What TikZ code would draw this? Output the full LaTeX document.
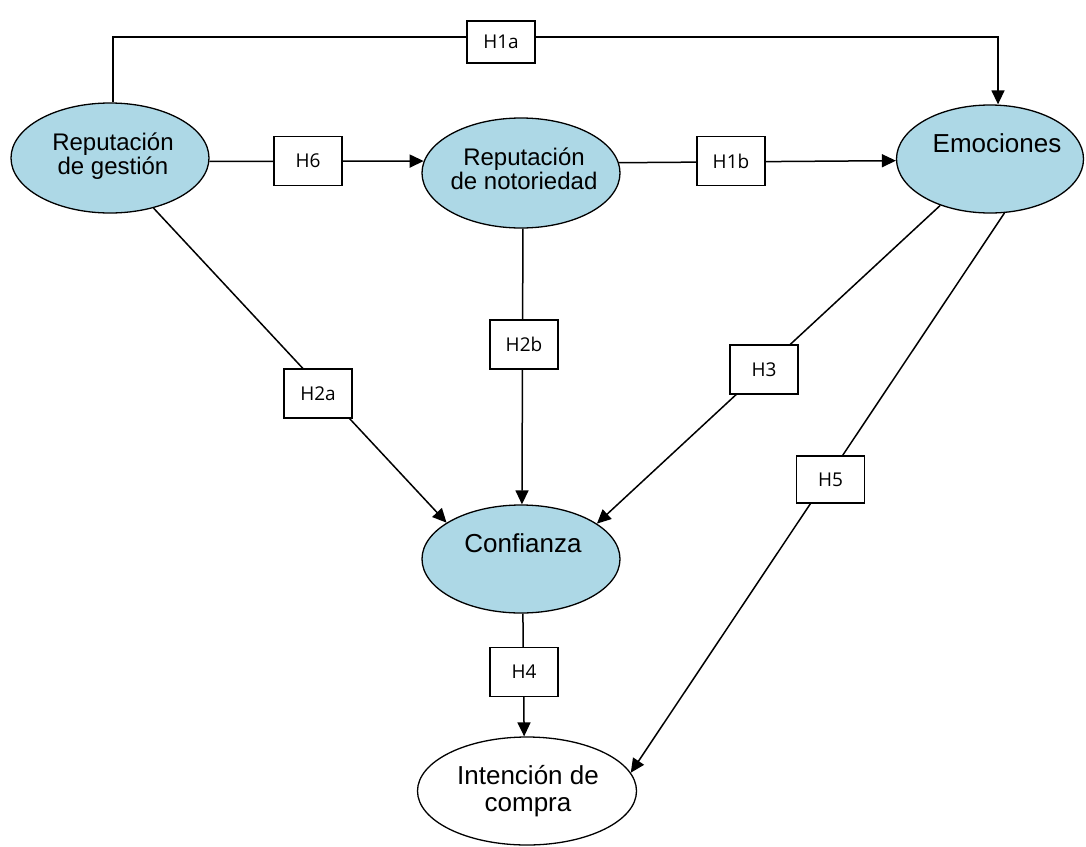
\documentclass[tikz,border=0pt]{standalone}
\usepackage{fontspec}
\setmainfont{Liberation Sans}
\newfontfamily\boxfont{Open Sans}
\usetikzlibrary{shapes.geometric,arrows.meta,backgrounds}
\definecolor{ellblue}{RGB}{173,216,230}
\begin{document}
\begin{tikzpicture}[x=1pt,y=-1pt,
  ell/.style={ellipse,draw=black,line width=1.3pt,fill=ellblue,inner sep=0pt},
  etxt/.style={align=center,font=\fontsize{24}{24}\selectfont,inner sep=0pt},
  etxtb/.style={align=center,font=\fontsize{26}{27}\selectfont,inner sep=0pt},
  hbox/.style={rectangle,draw=black,line width=1.4pt,fill=white,minimum width=68pt,minimum height=49pt,inner sep=0pt,font=\boxfont\fontsize{19}{19}\selectfont},
  conn/.style={line width=1.5pt},
  arr/.style={conn,-{Triangle[length=14pt,width=13pt]}}]
\useasboundingbox (0,0) rectangle (1086,846);

% ellipses
\node[ell,minimum width=198pt,minimum height=110pt] (rg) at (110,158) {};
\node[ell,minimum width=198pt,minimum height=110pt] (rn) at (521,173) {};
\node[ell,minimum width=187pt,minimum height=108pt] (emo) at (990,159) {};
\node[ell,minimum width=198pt,minimum height=108pt] (cf) at (521,559) {};
\node[ell,fill=white,minimum width=219pt,minimum height=108pt] (ic) at (527,791) {};

% ellipse texts
\node[etxt] (rgt) at (113,156.5) {Reputación\\de gestión};
\node[etxt] (rnt) at (524,168.5) {Reputación\\de notoriedad};
\node[etxtb] (emot) at (997,143) {Emociones};
\node[etxtb] (cft) at (523,543.5) {Confianza};
\node[etxtb] (ict) at (528,791) {Intención de\\compra};

% hypothesis boxes
\coordinate (h1aline) at (501,37);
\node[hbox,minimum height=42pt] (h1a) at (501,42) {H1a};
\node[hbox] (h6) at (308,161) {H6};
\node[hbox] (h1b) at (731,161) {H1b};
\node[hbox] (h2a) at (318,393.5) {H2a};
\node[hbox] (h2b) at (524,344.5) {H2b};
\node[hbox] (h3) at (764,369.5) {H3};
\node[hbox,minimum height=47pt] (h5) at (830.5,479.5) {H5};
\node[hbox] (h4) at (524,672) {H4};

% connectors
\begin{scope}[on background layer]
\draw[arr] ([xshift=3pt]rg.north) |- (h1aline) -| ([xshift=8pt]emo.north);
\draw[arr] (rg.-2) -- (rn.173.5);
\draw[arr] (rn.6.5) -- (emo.181);
\draw[arr] (rg.-49) -- (cf.154);
\draw[arr] (rn.-88) -- (cf.89);
\draw[arr] (emo.-137.4) -- (cf.25);
\draw[arr] (emo.-75) -- (ic.10);
\draw[arr] (cf.-88) -- (ic.93);
\end{scope}
\end{tikzpicture}
\end{document}
